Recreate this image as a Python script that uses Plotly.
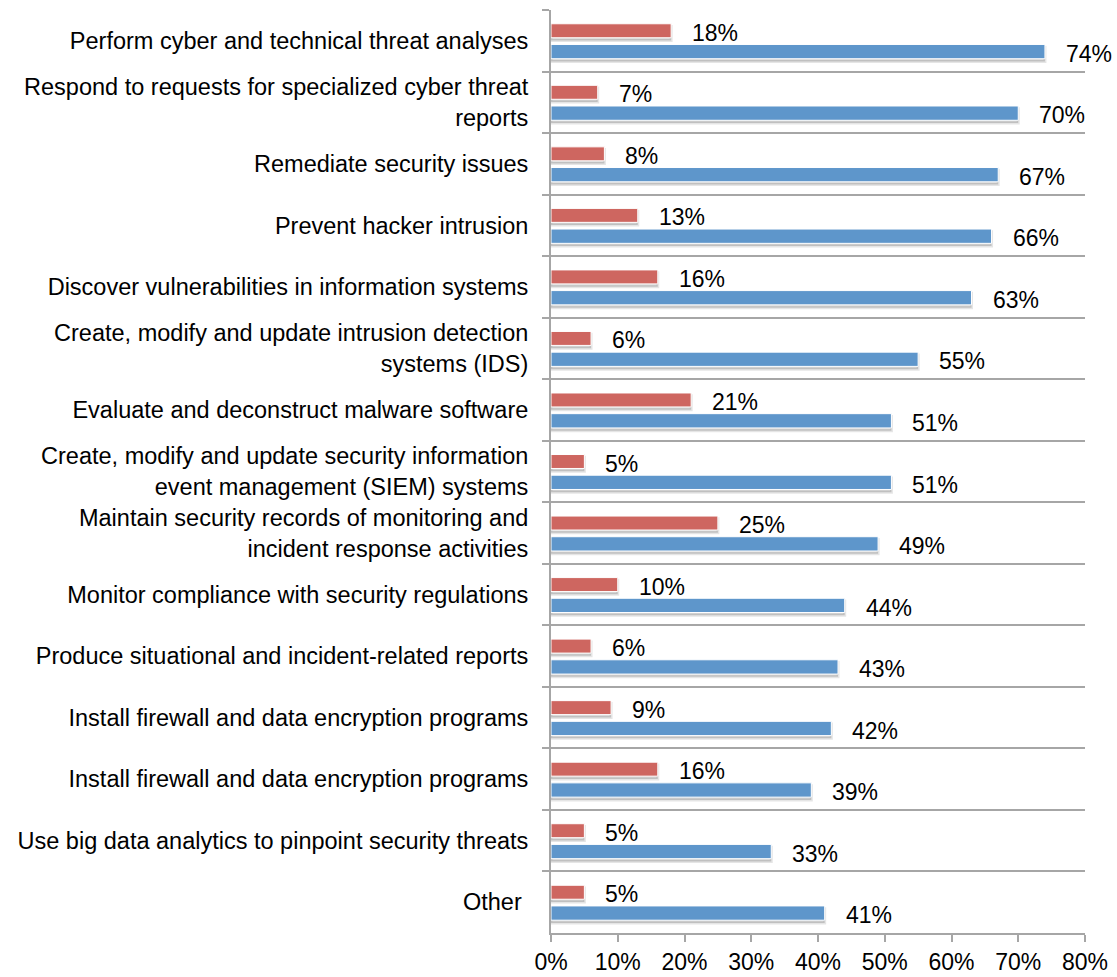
import plotly.graph_objects as go

categories = [
    "Perform cyber and technical threat analyses",
    "Respond to requests for specialized cyber threat<br>reports",
    "Remediate security issues",
    "Prevent hacker intrusion",
    "Discover vulnerabilities in information systems",
    "Create, modify and update intrusion detection<br>systems (IDS)",
    "Evaluate and deconstruct malware software",
    "Create, modify and update security information<br>event management (SIEM) systems",
    "Maintain security records of monitoring and<br>incident response activities",
    "Monitor compliance with security regulations",
    "Produce situational and incident-related reports",
    "Install firewall and data encryption programs",
    "Install firewall and data encryption programs\u200b",
    "Use big data analytics to pinpoint security threats",
    "Other\u00a0",
]
red_values = [18, 7, 8, 13, 16, 6, 21, 5, 25, 10, 6, 9, 16, 5, 5]
blue_values = [74, 70, 67, 66, 63, 55, 51, 51, 49, 44, 43, 42, 39, 33, 41]
x_ticks = [0, 10, 20, 30, 40, 50, 60, 70, 80]

RED = "#CE6660"
BLUE = "#5E96CB"
GRID = "#A6A6A6"
FONT = "Liberation Sans, Arial, sans-serif"

RED_OFF, RED_W = -0.276, 0.227
BLUE_OFF, BLUE_W = 0.06, 0.232
SH = 0.045

fig = go.Figure()

# soft shadows
for vals, off, w in [(red_values, RED_OFF, RED_W), (blue_values, BLUE_OFF, BLUE_W)]:
    fig.add_trace(go.Bar(
        x=vals, y=categories, orientation="h",
        offset=off + SH, width=w,
        marker=dict(color="rgba(0,0,0,0.16)", line=dict(color="rgba(0,0,0,0.10)", width=3)),
        hoverinfo="skip", showlegend=False,
    ))

fig.add_trace(go.Bar(
    x=red_values, y=categories, orientation="h", name="Red",
    offset=RED_OFF, width=RED_W,
    marker=dict(color=RED, line=dict(color="white", width=1)),
    showlegend=False,
))
fig.add_trace(go.Bar(
    x=blue_values, y=categories, orientation="h", name="Blue",
    offset=BLUE_OFF, width=BLUE_W,
    marker=dict(color=BLUE, line=dict(color="white", width=1)),
    showlegend=False,
))

annotations = []
for cat, r, b in zip(categories, red_values, blue_values):
    annotations.append(dict(x=r, y=cat, text=f"{r}%", showarrow=False,
                            xanchor="left", yanchor="middle", xshift=19, yshift=8,
                            font=dict(size=23, color="black", family=FONT)))
    annotations.append(dict(x=b, y=cat, text=f"{b}%", showarrow=False,
                            xanchor="left", yanchor="middle", xshift=19, yshift=-13,
                            font=dict(size=23, color="black", family=FONT)))

fig.update_layout(
    width=1117, height=977,
    margin=dict(l=551, r=32, t=10, b=44, autoexpand=False),
    paper_bgcolor="white", plot_bgcolor="white",
    barmode="overlay",
    font=dict(family=FONT, size=22, color="black"),
    annotations=annotations,
    xaxis=dict(
        range=[0, 80], tickvals=x_ticks, ticktext=[f"{v}%" for v in x_ticks],
        showgrid=False, zeroline=False, automargin=False,
        showline=True, linecolor=GRID, linewidth=2,
        ticks="outside", ticklen=7, tickcolor=GRID, tickwidth=2,
        tickfont=dict(size=23, color="black", family=FONT),
        ticklabelstandoff=0,
    ),
    yaxis=dict(
        type="category", range=[14.5, -0.5], automargin=False,
        tickson="boundaries", showgrid=True, gridcolor=GRID, gridwidth=2,
        showline=True, linecolor=GRID, linewidth=2,
        ticks="outside", ticklen=7, tickcolor=GRID, tickwidth=2,
        tickfont=dict(size=23.5, color="black", family=FONT),
        ticklabelstandoff=16,
        zeroline=False,
    ),
)

fig.write_html(
    "out.html",
    config={"displayModeBar": False},
    post_script="document.body.style.margin='0';document.body.style.overflow='hidden';",
)
